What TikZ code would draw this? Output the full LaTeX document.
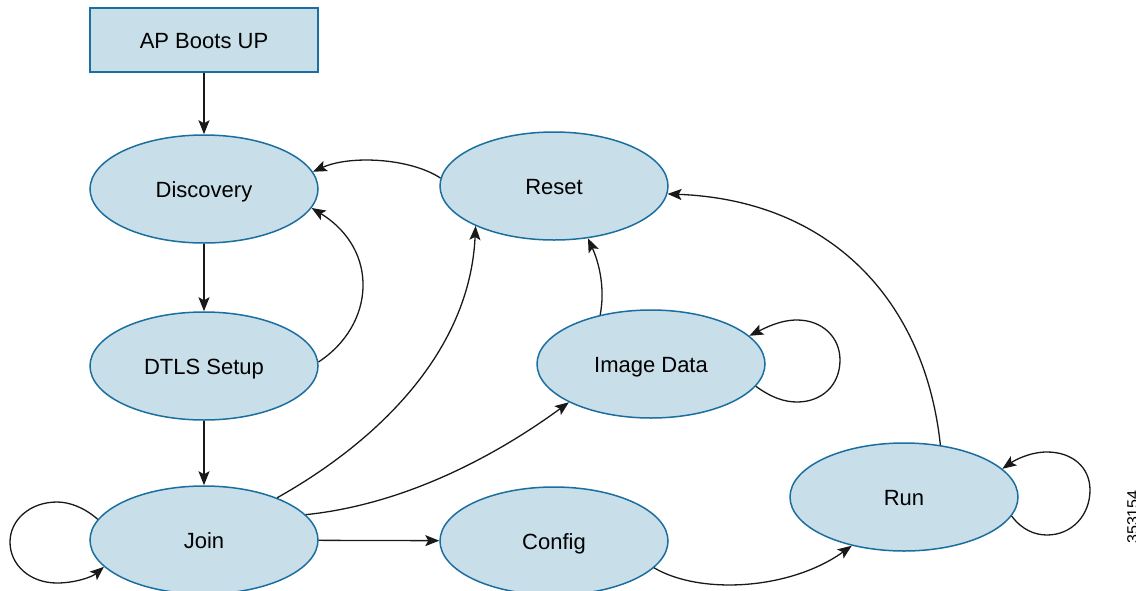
\documentclass[tikz,border=0pt]{standalone}
\usepackage{fontspec}
\setmainfont{Liberation Sans}
\usetikzlibrary{shapes.geometric,arrows.meta}
\definecolor{nodefill}{RGB}{200,222,232}
\definecolor{nodeedge}{RGB}{26,110,160}
\begin{document}
\begin{tikzpicture}[x=1pt,y=-1pt,
  stateell/.style={ellipse, draw=nodeedge, fill=nodefill, line width=1.5pt,
    minimum width=228pt, minimum height=108pt, inner sep=0pt,
    text height=20pt, text depth=4pt,
    font=\fontsize{22}{26}\selectfont},
  bootbox/.style={rectangle, draw=nodeedge, fill=nodefill, line width=1.5pt,
    minimum width=228pt, minimum height=64pt, inner sep=0pt,
    text height=20pt, text depth=4pt,
    font=\fontsize{22}{26}\selectfont},
  conn/.style={line width=1.3pt, black!90, -{Stealth[length=14pt,width=11pt,inset=3pt]}}]
\useasboundingbox (0,0) rectangle (1136,590);
\node[bootbox] (boot) at (204,40) {AP Boots UP};
\node[stateell] (disc) at (204,189) {Discovery};
\node[stateell] (dtls) at (204,366) {DTLS Setup};
\node[stateell] (join) at (204,540) {Join};
\node[stateell] (reset) at (554,186) {Reset};
\node[stateell] (imgd) at (651,364) {Image Data};
\node[stateell] (config) at (554,541) {Config};
\node[stateell] (run) at (904,497) {Run};
\node[rotate=90, anchor=north, inner sep=0pt, font=\fontsize{16}{18}\selectfont] (fig) at (1127,517) {353154};

\draw[conn] (boot) -- (disc);
\draw[conn] (disc) -- (dtls);
\draw[conn] (dtls) -- (join);
\draw[conn] (join) -- (config);
\draw[conn] (reset.176) .. controls (410,158) and (350,155) .. (disc.9);
\draw[conn] (dtls.2) .. controls (375,325) and (380,250) .. (disc.-10);
\draw[conn] (join.30) .. controls (380,440) and (470,350) .. (reset.-153);
\draw[conn] (join.14) .. controls (400,505) and (490,460) .. (imgd.-155);
\draw[conn] (config.-15) .. controls (700,595) and (790,590) .. (run.-137);
\draw[conn] (imgd.136) .. controls (605,290) and (600,265) .. (reset.-57);
\draw[conn] (run.55) .. controls (925,300) and (830,200) .. (reset.-4);
\draw[conn] (imgd.-12) .. controls (772,398) and (785,402) .. (797,402)
  .. controls (822,402) and (840,385) .. (840,360)
  .. controls (840,337) and (822,320) .. (797,320)
  .. controls (780,320) and (765,328) .. (imgd.16);
\draw[conn] (run.-10) .. controls (1022,530) and (1035,535) .. (1047,535)
  .. controls (1072,535) and (1090,515) .. (1090,490)
  .. controls (1090,467) and (1072,452) .. (1047,452)
  .. controls (1030,452) and (1015,460) .. (run.16);
\draw[conn] (join.169) .. controls (85,508) and (70,502) .. (57,502)
  .. controls (30,502) and (10,520) .. (10,542)
  .. controls (10,565) and (30,583) .. (57,583)
  .. controls (75,583) and (92,577) .. (join.-165);
\end{tikzpicture}
\end{document}
